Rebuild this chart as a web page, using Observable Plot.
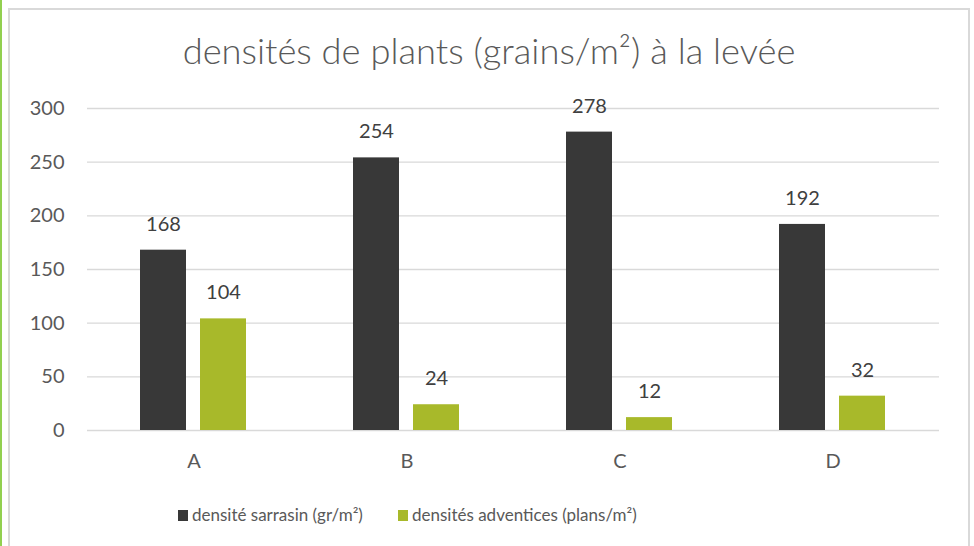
<!DOCTYPE html>
<html>
<head>
<meta charset="utf-8">
<script src="https://cdn.jsdelivr.net/npm/d3@7"></script>
<script src="https://cdn.jsdelivr.net/npm/@observablehq/plot@0.6"></script>
<style>
  html, body { margin: 0; padding: 0; background: #fff; }
  #wrap { position: relative; width: 974px; height: 546px; overflow: hidden; font-family: Lato, sans-serif; }
  #green { position: absolute; left: 0; top: 0; width: 2px; height: 546px; background: #92d050; }
  #frame { position: absolute; left: 8px; top: 8px; width: 958px; height: 560px; border: 2px solid #d9d9d9; }
  #chart { position: absolute; left: 0; top: 0; }
  #title { position: absolute; left: 0; width: 978px; top: 30px; text-align: center; font-size: 36.3px; font-weight: 300; color: #595959; white-space: nowrap; line-height: 40px; }
  .leg { position: absolute; top: 503px; display: flex; align-items: center; font-size: 17px; color: #595959; white-space: nowrap; line-height: 24px; }
  .sw { width: 10px; height: 11px; margin-right: 4px; }
</style>
</head>
<body>
<div id="wrap">
  <div id="green"></div>
  <div id="frame"></div>
  <div id="chart"></div>
  <div id="title"></div>
  <div id="legend"></div>
</div>
<script>
const titleText = "densités de plants (grains/m²) à la levée";
const categories = ["A", "B", "C", "D"];
const series = ["densité sarrasin (gr/m²)", "densités adventices (plans/m²)"];
const sarrasin = [168, 254, 278, 192];
const adventices = [104, 24, 12, 32];
const yTicks = [0, 50, 100, 150, 200, 250, 300];
const colors = ["#383838", "#a8b92a"];
const legendLefts = [178, 398];

const data = categories.flatMap((c, i) => [
  {cat: c, serie: series[0], value: sarrasin[i]},
  {cat: c, serie: series[1], value: adventices[i]}
]);

const chart = Plot.plot({
  width: 974,
  height: 546,
  marginTop: 108,
  marginBottom: 116,
  marginLeft: 85,
  marginRight: 34,
  style: {fontFamily: "Lato, sans-serif", fontSize: "20px", color: "#595959", background: "transparent"},
  fx: {domain: categories, padding: 0},
  x: {domain: series, paddingInner: 0.2295, paddingOuter: 0.867},
  y: {domain: [0, 300]},
  color: {domain: series, range: colors},
  marks: [
    Plot.gridY(yTicks, {stroke: "#d9d9d9", strokeOpacity: 1, strokeWidth: 1.4}),
    Plot.axisY({ticks: yTicks, tickSize: 0, tickPadding: 23, label: null, fontSize: 20, fill: "#595959"}),
    Plot.axisFx({anchor: "bottom", tickSize: 0, tickPadding: 23, label: null, fontSize: 20, fill: "#595959"}),
    Plot.axisX({ticks: [], label: null, tickSize: 0}),
    Plot.barY(data, {fx: "cat", x: "serie", y: "value", fill: "serie"}),
    Plot.text(data, {fx: "cat", x: "serie", y: "value", text: d => String(d.value), dy: -26, fontSize: 20, fill: "#404040"})
  ]
});
document.getElementById("chart").appendChild(chart);
document.getElementById("title").textContent = titleText;

const legend = document.getElementById("legend");
series.forEach((s, i) => {
  const item = document.createElement("div");
  item.className = "leg";
  item.style.left = legendLefts[i] + "px";
  const sw = document.createElement("span");
  sw.className = "sw";
  sw.style.background = colors[i];
  const t = document.createElement("span");
  t.textContent = s;
  item.appendChild(sw);
  item.appendChild(t);
  legend.appendChild(item);
});
</script>
</body>
</html>
